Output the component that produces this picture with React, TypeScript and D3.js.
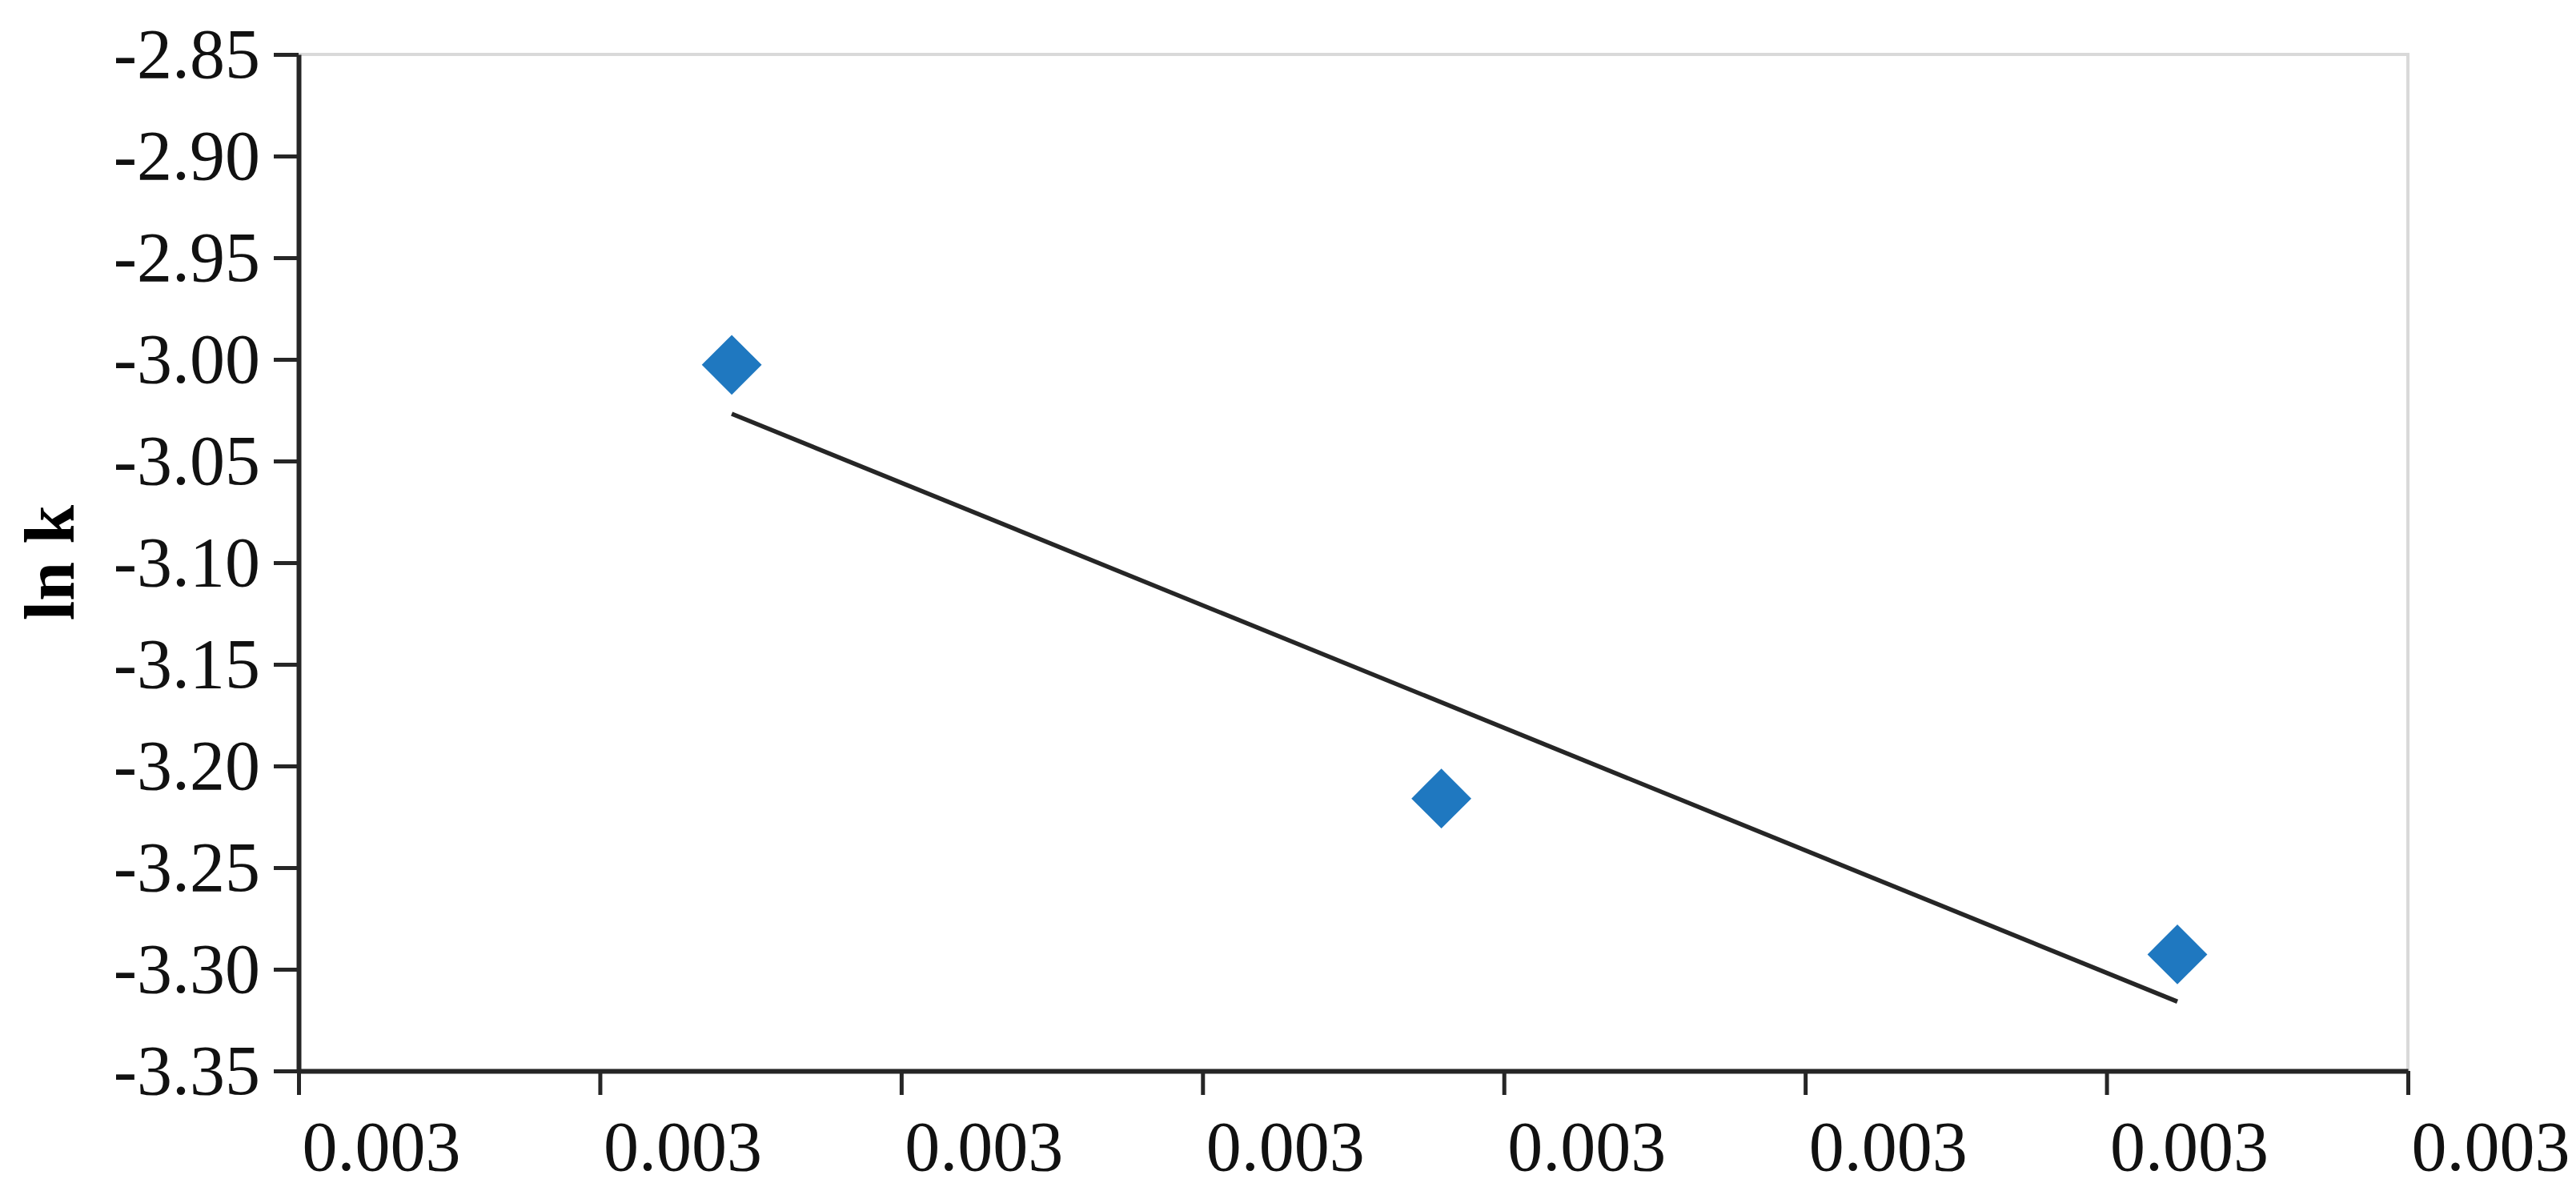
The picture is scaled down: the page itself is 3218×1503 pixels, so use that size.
import React, { useEffect, useRef } from "react";
import * as d3 from "d3";

// 1/T values and ln k
const invT = [0.0030575, 0.0031517, 0.0032494];
const lnK = [-3.0027, -3.216, -3.2927];

const xTicks = [0.003, 0.00304, 0.00308, 0.00312, 0.00316, 0.0032, 0.00324, 0.00328];
const yTicks = [-3.35, -3.3, -3.25, -3.2, -3.15, -3.1, -3.05, -3.0, -2.95, -2.9, -2.85];

const yLabel = "ln k";

const App = () => {
  const svgRef = useRef<SVGSVGElement>(null);

  useEffect(() => {
    document.body.style.margin = "0";

    const W = 3218;
    const H = 1503;
    const margin = { top: 68, right: 210, bottom: 165, left: 373 };
    const width = W - margin.left - margin.right;
    const height = H - margin.top - margin.bottom;

    const root = d3.select(svgRef.current).attr("width", W).attr("height", H);
    root.selectAll("*").remove();

    const svg = root
      .append("g")
      .attr("transform", `translate(${margin.left},${margin.top})`);

    const x = d3
      .scaleLinear()
      .domain([xTicks[0], xTicks[xTicks.length - 1]])
      .range([0, width]);

    const y = d3
      .scaleLinear()
      .domain([yTicks[0], yTicks[yTicks.length - 1]])
      .range([height, 0]);

    // light frame on top and right
    svg
      .append("path")
      .attr("d", `M0,0H${width}V${height}`)
      .attr("fill", "none")
      .attr("stroke", "#d9d9d9")
      .attr("stroke-width", 4);

    // least squares trend line
    const mx = d3.mean(invT)!;
    const my = d3.mean(lnK)!;
    const sxy = d3.sum(invT, (v, i) => (v - mx) * (lnK[i] - my));
    const sxx = d3.sum(invT, (v) => (v - mx) * (v - mx));
    const slope = sxy / sxx;
    const icpt = my - slope * mx;
    const ends = d3.extent(invT) as [number, number];

    svg
      .append("path")
      .datum(ends)
      .attr(
        "d",
        d3
          .line<number>()
          .x((d) => x(d))
          .y((d) => y(icpt + slope * d))
      )
      .attr("stroke", "#262626")
      .attr("stroke-width", 5.5)
      .attr("fill", "none");

    // diamond markers
    const diamond = d3.symbol().type(d3.symbolSquare).size(2800);
    svg
      .selectAll(".pt")
      .data(invT)
      .enter()
      .append("path")
      .attr("class", "pt")
      .attr("d", diamond)
      .attr("transform", (d, i) => `translate(${x(d)},${y(lnK[i])}) rotate(45)`)
      .attr("fill", "#1f78c0");

    const font = "'Liberation Serif', 'Times New Roman', serif";

    const yAxis = d3
      .axisLeft(y)
      .tickValues(yTicks)
      .tickSize(31)
      .tickSizeOuter(0)
      .tickPadding(17)
      .tickFormat((d) => (d as number).toFixed(2));

    const gy = svg.append("g").call(yAxis);
    gy.select(".domain").attr("stroke", "#262626").attr("stroke-width", 6);
    gy.selectAll(".tick line").attr("stroke", "#262626").attr("stroke-width", 5);
    gy.selectAll(".tick text")
      .attr("font-family", font)
      .attr("font-size", 88)
      .attr("fill", "#111");

    const xAxis = d3
      .axisBottom(x)
      .tickValues(xTicks)
      .tickSize(30)
      .tickSizeOuter(0)
      .tickPadding(32)
      .tickFormat((d) => (d as number).toFixed(3));

    const gx = svg.append("g").attr("transform", `translate(0,${height})`).call(xAxis);
    gx.select(".domain").attr("stroke", "#262626").attr("stroke-width", 6);
    gx.selectAll(".tick line").attr("stroke", "#262626").attr("stroke-width", 5);
    gx.selectAll(".tick text")
      .attr("font-family", font)
      .attr("font-size", 88)
      .attr("fill", "#111")
      .attr("text-anchor", "start")
      .attr("dx", 4);

    svg
      .append("text")
      .attr("transform", `translate(${62 - margin.left},${height / 2}) rotate(-90)`)
      .attr("text-anchor", "middle")
      .attr("dominant-baseline", "central")
      .attr("font-family", font)
      .attr("font-weight", "bold")
      .attr("font-size", 88)
      .attr("fill", "#000")
      .text(yLabel);
  }, []);

  return <svg ref={svgRef} style={{ display: "block" }}></svg>;
};

export default App;
